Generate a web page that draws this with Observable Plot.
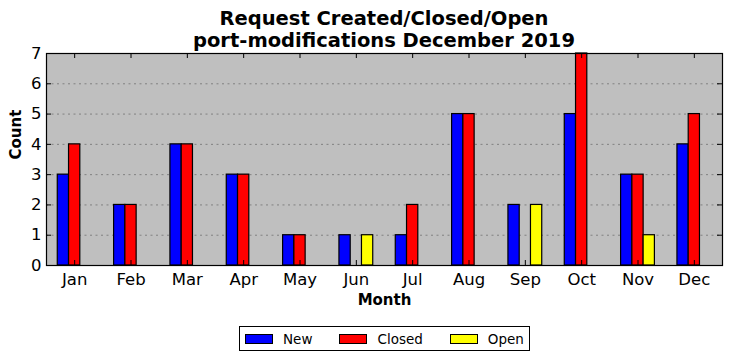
<!DOCTYPE html>
<html><head><meta charset="utf-8">
<script src="https://cdn.jsdelivr.net/npm/d3@7"></script>
<script src="https://cdn.jsdelivr.net/npm/@observablehq/plot@0.6"></script>
<style>
body{margin:0;background:#fff;font-family:"DejaVu Sans",sans-serif;}
#wrap{position:relative;width:732px;height:361px;}
#title{position:absolute;left:46px;width:676px;top:8px;text-align:center;font-weight:bold;font-size:19.5px;line-height:22px;color:#000;z-index:2;}
#chart{position:absolute;left:0;top:38px;z-index:1;}
#legend{position:absolute;left:239px;top:326px;width:289px;height:23px;border:1px solid #000;display:flex;align-items:center;font-size:13.5px;}
.it{display:flex;align-items:center;margin-left:5px;}
.sw{width:26px;height:8px;border:1px solid #000;margin-right:10px;}
</style></head>
<body><div id="wrap">
<div id="title">Request Created/Closed/Open<br>port-modifications December 2019</div>
<div id="chart"></div>
<div id="legend"></div>
</div>
<script>
const months = ["Jan","Feb","Mar","Apr","May","Jun","Jul","Aug","Sep","Oct","Nov","Dec"];
const series = ["New","Closed","Open"];
const colors = ["#0000ff","#ff0000","#ffff00"];
const newVals = [3,2,4,3,1,1,1,5,2,5,3,4];
const closedVals = [4,2,4,3,1,0,2,5,0,7,3,5];
const openVals = [0,0,0,0,0,1,0,0,2,0,1,0];
const yTicks = [0,1,2,3,4,5,6,7];

const vals = [newVals, closedVals, openVals];
const data = [];
months.forEach((m, i) => series.forEach((s, k) => data.push({i, month: m, series: s, k, value: vals[k][i]})));
const barW = 0.2;
const W = 732, H = 277, mL = 46, mR = 10, mT = 15, mB = 50;
const fw = W - mL - mR, fh = H - mT - mB, tl = 5;
const xt = d3.range(12);

const chart = Plot.plot({
  width: W, height: H,
  marginLeft: mL, marginRight: mR, marginTop: mT, marginBottom: mB,
  style: {fontFamily: "DejaVu Sans", fontSize: "16px", color: "#000", background: "transparent"},
  x: {type: "linear", domain: [-0.5, 11.5]},
  y: {domain: [0, 7]},
  color: {domain: series, range: colors},
  marks: [
    Plot.frame({fill: "#bfbfbf"}),
    Plot.gridY(yTicks.slice(1, -1), {stroke: "#808080", strokeOpacity: 1, strokeDasharray: "2,3.5", strokeWidth: 1}),
    Plot.rectY(data.filter(d => d.value > 0), {
      x1: d => d.i + (d.k - 1) * barW - barW / 2,
      x2: d => d.i + (d.k - 1) * barW + barW / 2,
      y1: 0, y2: "value", fill: "series", stroke: "#000", strokeWidth: 1.2
    }),
    Plot.ruleX(xt, {x: d => d, insetTop: fh - tl, stroke: "#000", strokeWidth: 1}),
    Plot.ruleX(xt, {x: d => d, insetBottom: fh - tl, stroke: "#000", strokeWidth: 1}),
    Plot.ruleY(yTicks, {y: d => d, insetRight: fw - tl, stroke: "#000", strokeWidth: 1}),
    Plot.ruleY(yTicks, {y: d => d, insetLeft: fw - tl, stroke: "#000", strokeWidth: 1}),
    Plot.axisX({ticks: xt, tickFormat: i => months[i], tickSize: 0, tickPadding: 8, label: null, fontSize: 16.5}),
    Plot.axisY({ticks: yTicks, tickFormat: d3.format("d"), tickSize: 0, tickPadding: 5, label: null, fontSize: 16.5}),
    Plot.frame({stroke: "#000", strokeWidth: 1.2}),
    Plot.text(["Month"], {frameAnchor: "bottom", dy: 39, text: d => d, fontWeight: "bold", fontSize: 15}),
    Plot.text(["Count"], {frameAnchor: "left", dx: -30, rotate: -90, text: d => d, fontWeight: "bold", fontSize: 15})
  ]
});
document.getElementById("chart").appendChild(chart);

const lg = document.getElementById("legend");
series.forEach((s, k) => {
  const it = document.createElement("div");
  it.className = "it";
  it.style.marginLeft = k === 0 ? "5px" : "27px";
  const sw = document.createElement("div");
  sw.className = "sw"; sw.style.background = colors[k];
  const t = document.createElement("span"); t.textContent = s;
  it.appendChild(sw); it.appendChild(t); lg.appendChild(it);
});
</script></body></html>
